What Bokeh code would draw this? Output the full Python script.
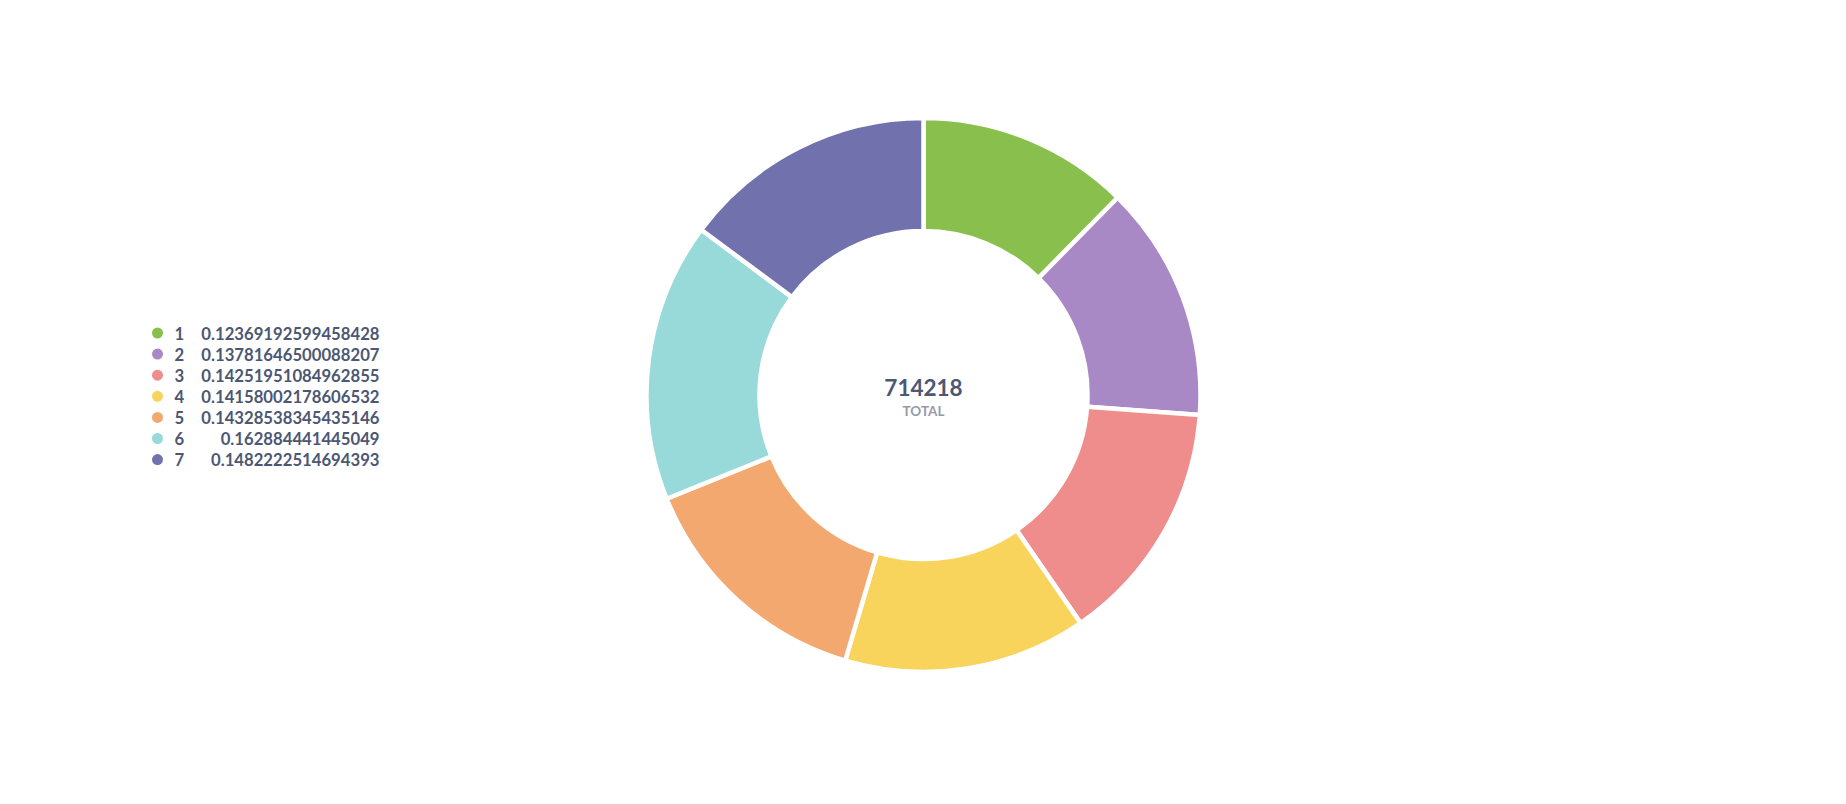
import math
from bokeh.plotting import figure
from bokeh.models import ColumnDataSource
from bokeh.core.properties import value
from bokeh.embed import file_html
from bokeh.resources import INLINE

labels = ["1", "2", "3", "4", "5", "6", "7"]
values = [0.12369192599458428, 0.13781646500088207, 0.14251951084962855,
          0.14158002178606532, 0.14328538345435146, 0.162884441445049,
          0.1482222514694393]
value_texts = ["0.12369192599458428", "0.13781646500088207", "0.14251951084962855",
               "0.14158002178606532", "0.14328538345435146", "0.162884441445049",
               "0.1482222514694393"]
colors = ["#88BF4D", "#A989C5", "#EF8C8C", "#F9D45C", "#F2A86F", "#98D9D9", "#7172AD"]
total = 714218
total_label = "TOTAL"

W, H = 1846, 804
CX, CY = 923, H - 394.5
R_OUT, R_IN = 277, 164
TEXT = "#4C5773"

tot = sum(values)
starts, ends = [], []
cum = 0.0
for v in values:
    a0 = math.pi / 2 - 2 * math.pi * cum / tot
    cum += v
    a1 = math.pi / 2 - 2 * math.pi * cum / tot
    starts.append(a1)
    ends.append(a0)

src = ColumnDataSource(dict(x=[CX] * len(values), y=[CY] * len(values),
                            start=starts, end=ends, color=colors))

p = figure(width=W, height=H, x_range=(0, W), y_range=(0, H),
           output_backend="svg", toolbar_location=None, min_border=0)
p.axis.visible = False
p.grid.visible = False
p.outline_line_color = None
p.background_fill_color = "white"
p.border_fill_color = "white"

p.annular_wedge(x="x", y="y", inner_radius=R_IN, outer_radius=R_OUT,
                start_angle="start", end_angle="end", direction="anticlock",
                fill_color="color", line_color="white", line_width=4.5, source=src)

# center text
p.text(x=[CX], y=[H - 387], text=[str(total)], text_align="center",
       text_baseline="middle", text_font=value("Lato"), text_font_style="bold",
       text_font_size="22.5px", text_color=TEXT)
p.text(x=[CX], y=[H - 410.5], text=[total_label], text_align="center",
       text_baseline="middle", text_font=value("Lato"), text_font_style="bold",
       text_font_size="13.5px", text_color="#949AAB")

# legend
ly = [H - (332.5 + 21.1 * i) for i in range(len(labels))]
lsrc = ColumnDataSource(dict(dx=[157] * len(labels), lx=[174] * len(labels),
                             vx=[379] * len(labels), y=ly, label=labels,
                             val=value_texts, color=colors))
p.scatter(x="dx", y="y", size=11, marker="circle", fill_color="color",
          line_color=None, source=lsrc)
p.text(x="lx", y="y", text="label", text_align="left", text_baseline="middle",
       text_font=value("Lato"), text_font_style="bold", text_font_size="16.7px",
       text_color=TEXT, source=lsrc)
p.text(x="vx", y="y", text="val", text_align="right", text_baseline="middle",
       text_font=value("Lato"), text_font_style="bold", text_font_size="16.7px",
       text_color=TEXT, source=lsrc)

open("out.html", "w").write(file_html(p, INLINE))
